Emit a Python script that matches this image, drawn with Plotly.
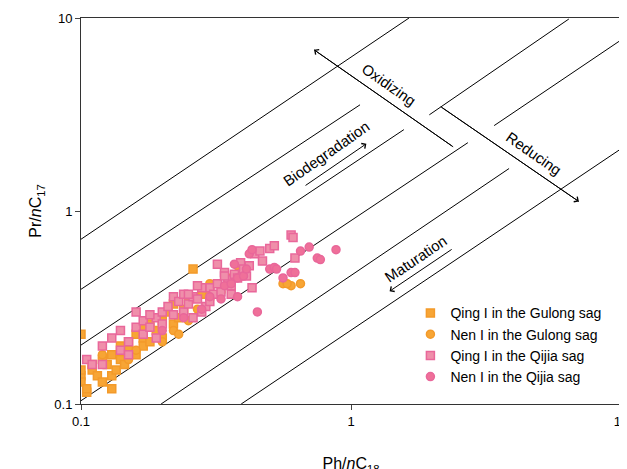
import numpy as np
import plotly.graph_objects as go

# sample groups (Ph/nC18, Pr/nC17)
qing_gulong_x = [0.10, 0.10, 0.10, 0.105, 0.11, 0.11, 0.115, 0.12, 0.12, 0.125, 0.13, 0.13, 0.135, 0.14, 0.14, 0.145,
                 0.15, 0.15, 0.16, 0.16, 0.17, 0.17, 0.18, 0.18, 0.19, 0.2, 0.2, 0.21, 0.22, 0.22, 0.23, 0.24, 0.25,
                 0.26, 0.1, 0.105, 0.13, 0.28, 0.3, 0.35]
qing_gulong_y = [0.14, 0.13, 0.15, 0.115, 0.15, 0.16, 0.14, 0.17, 0.13, 0.16, 0.14, 0.18, 0.15, 0.2, 0.17, 0.16,
                 0.21, 0.19, 0.18, 0.23, 0.22, 0.2, 0.26, 0.21, 0.24, 0.27, 0.22, 0.3, 0.26, 0.33, 0.28, 0.31, 0.35,
                 0.5, 0.23, 0.12, 0.12, 0.37, 0.38, 0.42]
nen_gulong_x = [0.12, 0.15, 0.16, 0.2, 0.22, 0.23, 0.25, 0.27, 0.3, 0.33, 0.35, 0.38, 0.56, 0.6, 0.58, 0.65, 0.17, 0.3]
nen_gulong_y = [0.18, 0.17, 0.19, 0.21, 0.24, 0.23, 0.27, 0.31, 0.35, 0.38, 0.45, 0.52, 0.42, 0.41, 0.42, 0.42, 0.25, 0.42]
qing_qijia_x = [0.105, 0.11, 0.12, 0.13, 0.14, 0.14, 0.15, 0.16, 0.17, 0.17, 0.18, 0.19, 0.19, 0.2, 0.2, 0.21, 0.22,
                0.22, 0.23, 0.24, 0.24, 0.25, 0.26, 0.26, 0.27, 0.28, 0.29, 0.3, 0.3, 0.31, 0.32, 0.33, 0.34, 0.35,
                0.36, 0.37, 0.38, 0.39, 0.4, 0.41, 0.42, 0.44, 0.46, 0.47, 0.5, 0.52, 0.6, 0.61, 0.62, 0.32, 0.34,
                0.28, 0.25, 0.15, 0.12, 0.16, 0.18, 0.27, 0.36, 0.43]
qing_qijia_y = [0.17, 0.16, 0.2, 0.22, 0.19, 0.24, 0.21, 0.25, 0.23, 0.27, 0.25, 0.22, 0.28, 0.3, 0.26, 0.32, 0.29,
                0.36, 0.34, 0.3, 0.37, 0.33, 0.36, 0.28, 0.35, 0.3, 0.32, 0.4, 0.34, 0.37, 0.42, 0.38, 0.48, 0.44,
                0.41, 0.47, 0.45, 0.54, 0.5, 0.46, 0.52, 0.6, 0.62, 0.55, 0.64, 0.66, 0.75, 0.73, 0.57, 0.53, 0.46,
                0.4, 0.37, 0.18, 0.16, 0.3, 0.29, 0.41, 0.37, 0.4]
nen_qijia_x = [0.2, 0.24, 0.28, 0.3, 0.33, 0.34, 0.36, 0.38, 0.38, 0.4, 0.42, 0.43, 0.45, 0.5, 0.52, 0.53, 0.56, 0.6,
               0.62, 0.65, 0.7, 0.75, 0.77, 0.88, 0.37, 0.41]
nen_qijia_y = [0.24, 0.28, 0.31, 0.36, 0.35, 0.41, 0.42, 0.45, 0.36, 0.46, 0.6, 0.63, 0.3, 0.5, 0.51, 0.5, 0.45, 0.48,
               0.48, 0.62, 0.65, 0.57, 0.56, 0.63, 0.53, 0.5]

# guide line segments: (x0, y0, x1, y1)
guide_lines = [(0.1, 0.714, 1.64, 10), (0.1, 0.393, 1.08, 3.55), (0.1, 0.202, 1.57, 2.64),
               (0.1, 0.104, 2.71, 2.26), (0.198, 0.1, 3.85, 1.66), (0.392, 0.1, 10, 2.10),
               (1.95, 3.15, 6.41, 9.88), (3.39, 2.77, 10, 7.69),
               (2.39, 2.15, 0.73, 6.84), (2.15, 3.47, 6.98, 1.12)]
# arrows: (tail x, tail y, head x, head y)
arrows = [(2.39, 2.15, 0.73, 6.84), (2.15, 3.47, 6.98, 1.12), (0.67, 1.34, 1.14, 2.23), (2.39, 0.64, 1.39, 0.384)]
labels = [('Oxidizing', 1.38, 4.51, 35), ('Reducing', 4.76, 1.98, 35),
          ('Biodegradation', 0.81, 1.98, -35), ('Maturation', 1.74, 0.569, -34)]

fig = go.Figure()
for x0, y0, x1, y1 in guide_lines:
    fig.add_trace(go.Scatter(x=[x0, x1], y=[y0, y1], mode='lines', line=dict(color='black', width=1),
                             showlegend=False, hoverinfo='skip'))

groups = [('Qing I in the Gulong sag', qing_gulong_x, qing_gulong_y, 'square', '#F7A535', '#F39A2A'),
          ('Nen I in the Gulong sag', nen_gulong_x, nen_gulong_y, 'circle', '#F7A535', '#F39A2A'),
          ('Qing I in the Qijia sag', qing_qijia_x, qing_qijia_y, 'square', '#EF8FAA', '#E9679A'),
          ('Nen I in the Qijia sag', nen_qijia_x, nen_qijia_y, 'circle', '#EF7099', '#E9679A')]
for name, xs, ys, sym, fill, edge in groups:
    fig.add_trace(go.Scatter(x=xs, y=ys, mode='markers', name=name,
                             marker=dict(symbol=sym, size=8, color=fill, line=dict(color=edge, width=1.5))))

for tx, ty, hx, hy in arrows:
    fig.add_annotation(x=np.log10(hx), y=np.log10(hy), ax=np.log10(tx), ay=np.log10(ty),
                       xref='x', yref='y', axref='x', ayref='y', text='', showarrow=True,
                       arrowhead=4, arrowsize=1.2, arrowwidth=1, arrowcolor='black')
for txt, x, y, ang in labels:
    fig.add_annotation(x=np.log10(x), y=np.log10(y), text=txt, showarrow=False, textangle=ang,
                       font=dict(size=15, color='black'))

axis_style = dict(type='log', showgrid=False, zeroline=False, showline=True, linecolor='#333', linewidth=1,
                  mirror=True, ticks='outside', ticklen=5, tickvals=[0.1, 1, 10], ticktext=['0.1', '1', '10'],
                  tickfont=dict(size=13, color='black'), automargin=False)
fig.update_xaxes(range=[-1, 1], title=dict(text='Ph/<i>n</i>C<sub>18</sub>', font=dict(size=16), standoff=30),
                 **axis_style)
fig.update_yaxes(range=[-1, 1], title=dict(text='Pr/<i>n</i>C<sub>17</sub>', font=dict(size=16), standoff=8),
                 **axis_style)
fig.update_layout(width=627, height=469, margin=dict(l=73, r=14, t=10, b=73),
                  plot_bgcolor='white', paper_bgcolor='white',
                  font=dict(family='Liberation Sans, Arial, sans-serif', color='black'),
                  legend=dict(x=0.61, y=0.03, xanchor='left', yanchor='bottom', font=dict(size=14),
                              bgcolor='rgba(0,0,0,0)', itemwidth=30, tracegroupgap=0))
fig.write_html('out.html')
